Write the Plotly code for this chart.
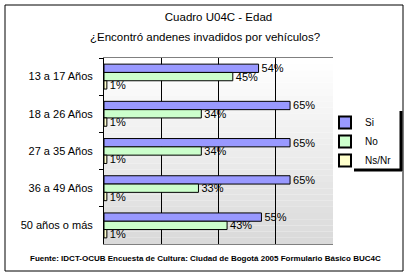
import plotly.graph_objects as go

categories = ["13 a 17 Años", "18 a 26 Años", "27 a 35 Años", "36 a 49 Años", "50 años o más"]
si = [54, 65, 65, 65, 55]
no = [45, 34, 34, 33, 43]
nsnr = [1, 1, 1, 1, 1]
series_names = ["Si", "No", "Ns/Nr"]
series_colors = ["#9999FF", "#CCFFCC", "#FFFFCC"]
title_1 = "Cuadro U04C - Edad"
title_2 = "¿Encontró andenes invadidos por vehículos?"
source = "Fuente: IDCT-OCUB Encuesta de Cultura: Ciudad de Bogotá 2005 Formulario Básico BUC4C"

W, H = 409, 275
L, R, T, B = 104, 333, 58, 244
pw, ph = R - L, B - T


def xp(px):
    return (px - L) / pw


def yp(py):
    return (B - py) / ph


FONT = "Liberation Sans, Arial, sans-serif"

fig = go.Figure()
for name, vals, col in zip(series_names, [si, no, nsnr], series_colors):
    fig.add_trace(go.Bar(
        y=categories, x=vals, name=name, orientation="h",
        marker=dict(color=col, line=dict(color="black", width=1)),
        text=[f"{v}%" for v in vals], textposition="outside",
        textfont=dict(family=FONT, size=11, color="black"),
        constraintext="none", cliponaxis=False,
    ))

shapes = []
# gradient background of plot area
n = 30
for i in range(n):
    t = i / (n - 1)
    g = int(round(255 - (255 - 218) * t))
    shapes.append(dict(type="rect", xref="x domain", yref="y domain",
                       x0=0, x1=1, y0=1 - (i + 1) / n, y1=1 - i / n,
                       fillcolor=f"rgb({g},{g},{g})", line=dict(width=0), layer="below"))
# outer frame
shapes.append(dict(type="rect", xref="paper", yref="paper",
                   x0=xp(5), x1=xp(403), y0=yp(271), y1=yp(5),
                   line=dict(color="black", width=1), fillcolor="rgba(0,0,0,0)", layer="below"))
# legend shadow
shapes.append(dict(type="line", xref="paper", yref="paper",
                   x0=xp(401), x1=xp(401), y0=yp(111), y1=yp(171),
                   line=dict(color="black", width=3)))
shapes.append(dict(type="line", xref="paper", yref="paper",
                   x0=xp(354), x1=xp(402), y0=yp(170), y1=yp(170),
                   line=dict(color="black", width=3)))

fig.update_layout(
    width=W, height=H,
    margin=dict(l=L, r=W - R, t=T, b=H - B),
    paper_bgcolor="white", plot_bgcolor="rgba(0,0,0,0)",
    barmode="group", bargap=0.33, bargroupgap=0,
    font=dict(family=FONT, size=11, color="black"),
    showlegend=True,
    legend=dict(x=xp(325), y=yp(108), xanchor="left", yanchor="top",
                xref="paper", yref="paper",
                bgcolor="rgba(0,0,0,0)", borderwidth=0,
                font=dict(family=FONT, size=10, color="black"),
                tracegroupgap=0, itemsizing="constant"),
    shapes=shapes,
    title=dict(text=title_1, x=0.5, xref="paper", xanchor="center",
               y=1 - 13 / H, yanchor="top", yref="container",
               font=dict(family=FONT, size=11.5, color="black")),
    annotations=[
        dict(text=title_2, xref="paper", yref="paper", x=xp(205), y=yp(37),
             xanchor="center", yanchor="middle", showarrow=False,
             font=dict(family=FONT, size=11.5, color="black")),
        dict(text=source, xref="paper", yref="paper", x=xp(205), y=yp(258),
             xanchor="center", yanchor="middle", showarrow=False,
             font=dict(family=FONT, size=8, color="black", weight="bold")),
    ],
)
fig.update_xaxes(range=[0, 80], dtick=20, showticklabels=False, showgrid=True,
                 gridcolor="black", gridwidth=1, zeroline=False,
                 showline=True, linecolor="#808080", mirror=True, ticks="")
fig.update_yaxes(autorange="reversed", tickson="boundaries", ticks="outside",
                 ticklen=4, tickcolor="black", showline=True, linecolor="black",
                 showgrid=False, ticklabelstandoff=8,
                 tickfont=dict(family=FONT, size=11, color="black"))
fig.write_html("out.html")
